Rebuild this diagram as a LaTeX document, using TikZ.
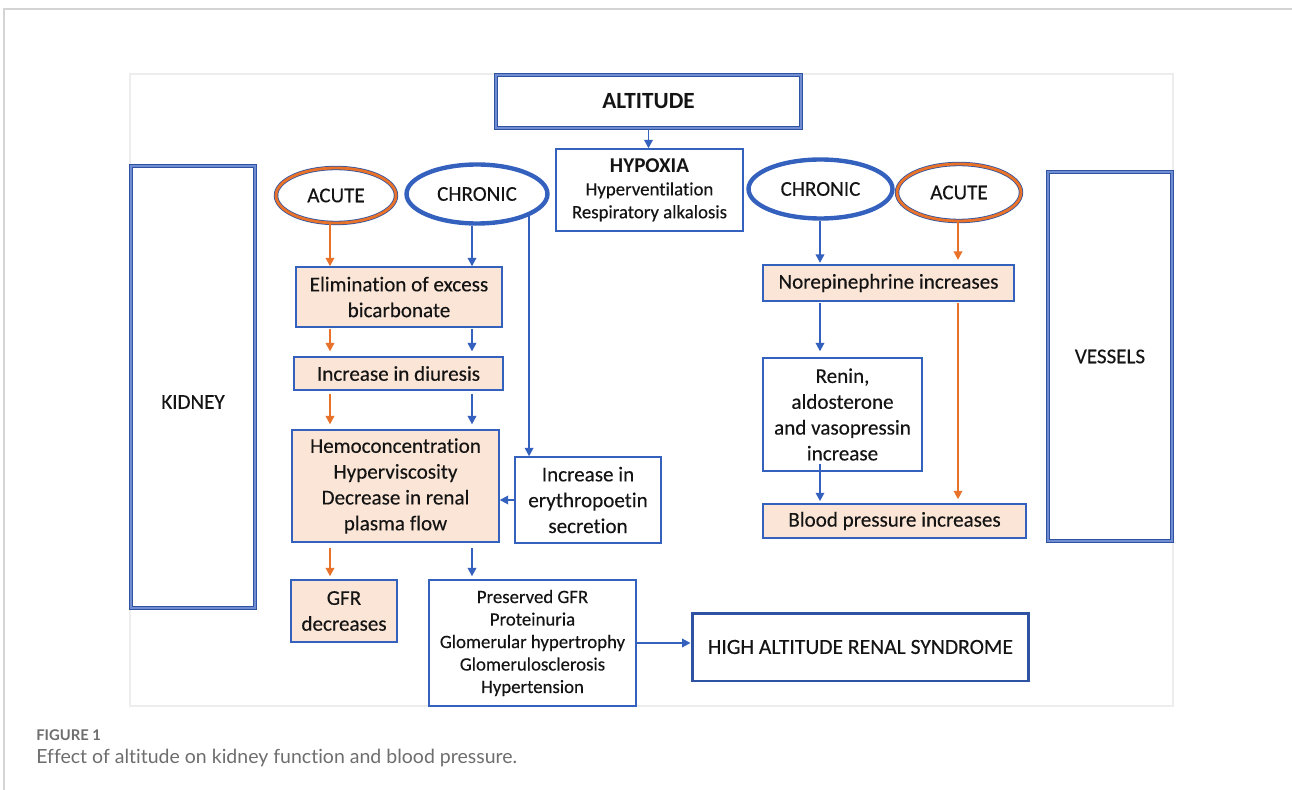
\documentclass[tikz,border=0pt]{standalone}
\usepackage{fontspec}
\setmainfont{Carlito}[Ligatures=NoCommon, UprightFeatures={FakeBold=0.25}]
\newfontfamily\capfont{Lato}[Ligatures=NoCommon]
\usetikzlibrary{arrows.meta,shapes.geometric}
\definecolor{bl}{HTML}{3561BE}
\definecolor{bld}{HTML}{2F53A3}
\definecolor{blt}{HTML}{6F8DD0}
\definecolor{org}{HTML}{E8722A}
\definecolor{peach}{HTML}{FBE5D6}
\definecolor{capg}{HTML}{6E6E6E}
\definecolor{frameg}{HTML}{D4D4D4}
\definecolor{innerg}{HTML}{EDEDED}
\begin{document}
\begin{tikzpicture}[x=0.02cm,y=-0.02cm,
  every node/.style={text=black!92, inner sep=0pt},
  tbox/.style={draw=bl, line width=0.8pt, rectangle, align=center, font=\fontsize{12}{14.7}\selectfont},
  pbox/.style={tbox, fill=peach},
  heavybox/.style={rectangle, draw=bld, double=blt, line width=0.9pt, double distance=0.9pt},
  chron/.style={ellipse, draw=bl, line width=2.5pt, font=\fontsize{12}{14}\selectfont},
  acute/.style={ellipse, draw=bld, double=org, line width=0.45pt, double distance=1.6pt, font=\fontsize{12}{14}\selectfont},
  bar/.style={draw=bl, line width=1.1pt, -{Triangle[length=4.8pt,width=4.8pt]}},
  oar/.style={draw=org, line width=1.1pt, -{Triangle[length=4.8pt,width=4.8pt]}},
  lbl/.style={font=\fontsize{12}{14}\selectfont}
]
\useasboundingbox (0,0) rectangle (1292,790);
\fill[white] (0,0) rectangle (1292,790);
% page frame lines
\draw[frameg, line width=0.9pt] (3,9) -- (1292,9);
\draw[frameg, line width=0.9pt] (4,9) -- (4,790);
% inner image frame
\draw[innerg, line width=0.6pt] (130,74) rectangle (1173,706);

% column coordinates
\coordinate (cLo) at (330,0);
\coordinate (cLb) at (472,0);
\coordinate (cRb) at (820,0);
\coordinate (cRo) at (958,0);

% top
\node[heavybox, minimum width=6.10cm, minimum height=1.06cm, font=\fontsize{13.2}{15}\selectfont\bfseries] (alt) at (648.5,101.5) {ALTITUDE};
\node[tbox, minimum width=3.74cm, minimum height=1.64cm, font=\fontsize{10.7}{13}\selectfont] (hyp) at (649.5,190)
  {{\fontsize{12}{13}\selectfont\bfseries HYPOXIA}\\Hyperventilation\\Respiratory alkalosis};

% side boxes
\node[heavybox, minimum width=2.48cm, minimum height=8.84cm] (kidney) at (193,387) {};
\node[lbl] (kidneyT) at (193,402) {KIDNEY};
\node[heavybox, minimum width=2.48cm, minimum height=7.38cm, lbl] (vessels) at (1110,356.5) {VESSELS};

% ovals
\node[acute, minimum width=2.40cm, minimum height=1.10cm] (acuteL) at (336,195.5) {ACUTE};
\node[chron, minimum width=2.82cm, minimum height=1.18cm] (chronL) at (477,194) {CHRONIC};
\node[chron, minimum width=2.88cm, minimum height=1.18cm] (chronR) at (820.5,189) {CHRONIC};
\node[acute, minimum width=2.48cm, minimum height=1.14cm] (acuteR) at (959,192.5) {ACUTE};

% left column
\node[pbox, minimum width=4.12cm, minimum height=1.20cm] (elim) at (399,297) {Elimination of excess\\bicarbonate};
\node[pbox, minimum width=4.18cm, minimum height=0.66cm] (diur) at (398.5,373.5) {Increase in diuresis};
\node[pbox, minimum width=4.14cm, minimum height=2.24cm] (hemo) at (395.5,486) {Hemoconcentration\\Hyperviscosity\\Decrease in renal\\plasma flow};
\node[tbox, minimum width=2.92cm, minimum height=1.72cm] (ery) at (588,500) {Increase in\\erythropoetin\\secretion};
\node[pbox, minimum width=2.12cm, minimum height=1.24cm] (gfr) at (344,611) {GFR\\decreases};
\node[tbox, minimum width=4.14cm, minimum height=2.52cm, font=\fontsize{10.7}{12.8}\selectfont] (pres) at (532.5,643)
  {Preserved GFR\\Proteinuria\\Glomerular hypertrophy\\Glomerulosclerosis\\Hypertension};
\node[rectangle, draw=bld, line width=1.7pt, minimum width=6.74cm, minimum height=1.36cm, font=\fontsize{12.3}{14}\selectfont] (hars) at (860.5,647) {HIGH ALTITUDE RENAL SYNDROME};

% right column
\node[pbox, minimum width=5.02cm, minimum height=0.72cm] (nore) at (888.5,283) {Norepinephrine increases};
\node[tbox, minimum width=3.18cm, minimum height=2.26cm] (renin) at (842.5,414.5) {Renin,\\aldosterone\\and vasopressin\\increase};
\node[pbox, minimum width=5.26cm, minimum height=0.68cm] (bp) at (894.5,521) {Blood pressure increases};

% connectors
\draw[bar] (alt.south) -- (alt.south |- hyp.north);
\draw[oar] (acuteL.south -| cLo) -- (elim.north -| cLo);
\draw[bar] (chronL.south -| cLb) -- (elim.north -| cLb);
\draw[bar] (chronL.-23) -- (chronL.-23 |- ery.north);
\draw[oar, shorten <=0.5pt, shorten >=2.8pt] (elim.south -| cLo) -- (diur.north -| cLo);
\draw[bar, shorten <=0.5pt, shorten >=2.8pt] (elim.south -| cLb) -- (diur.north -| cLb);
\draw[oar, shorten <=1.7pt, shorten >=2.8pt] (diur.south -| cLo) -- (hemo.north -| cLo);
\draw[bar, shorten <=1.7pt, shorten >=2.8pt] (diur.south -| cLb) -- (hemo.north -| cLb);
\draw[bar] (ery.west) -- (ery.west -| hemo.east);
\draw[oar, shorten <=2.8pt, shorten >=1.7pt] (hemo.south -| cLo) -- (gfr.north -| cLo);
\draw[bar, shorten <=2.8pt, shorten >=1.7pt] (hemo.south -| cLb) -- (pres.north -| cLb);
\draw[bar] (pres.east) -- (pres.east -| hars.west);
\draw[bar, shorten >=0.8pt] (chronR.south -| cRb) -- (nore.north -| cRb);
\draw[oar, shorten >=2.5pt] (acuteR.south -| cRo) -- (nore.north -| cRo);
\draw[bar, shorten <=0.5pt, shorten >=3.4pt] (nore.south -| cRb) -- (renin.north -| cRb);
\draw[oar, shorten <=0.5pt, shorten >=2.3pt] (nore.south -| cRo) -- (bp.north -| cRo);
\draw[bar, shorten <=-4.5pt, shorten >=1.2pt] (renin.south -| cRb) -- (bp.north -| cRb);

% caption
\node[anchor=base west, text=capg, font=\capfont\fontsize{8.4}{10}\selectfont\bfseries] (figno) at (36,740) {FIGURE 1};
\node[anchor=base west, text=capg, font=\capfont\fontsize{11.1}{13}\selectfont] (cap) at (36,763) {Effect of altitude on kidney function and blood pressure.};
\end{tikzpicture}
\end{document}
